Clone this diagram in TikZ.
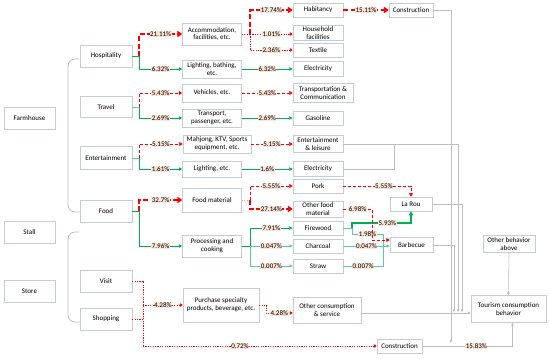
\documentclass[tikz,border=0pt]{standalone}
\usepackage{fontspec}
\setmainfont{Carlito}
\usetikzlibrary{arrows.meta,shadows,calc}
\definecolor{rd}{RGB}{255,0,0}
\definecolor{gn}{RGB}{0,176,80}
\definecolor{lgn}{RGB}{95,205,155}
\definecolor{gl}{RGB}{190,190,190}
\definecolor{peach}{RGB}{252,228,214}
\definecolor{bd}{RGB}{198,204,212}
\definecolor{tanc}{RGB}{205,175,125}
\begin{document}
\begin{tikzpicture}[x=1pt,y=-1pt,
  every node/.style={font=\fontsize{7}{7.8}\selectfont},
  box/.style={draw=bd, fill=white, line width=0.5pt, align=center, inner sep=0pt,
    drop shadow={shadow xshift=0.8pt,shadow yshift=-0.8pt,opacity=0.22}},
  sz/.style 2 args={minimum width=#1pt, minimum height=#2pt},
  lbl/.style={fill=peach, inner sep=0.5pt, text=black},
  rthick/.style={draw=rd, line width=1.8pt, dash pattern=on 5pt off 2.5pt},
  rthickA/.style={rthick, -{Triangle[length=5pt,width=6.5pt]}},
  rmed/.style={draw=rd, line width=0.9pt, dash pattern=on 3pt off 2pt},
  rmedA/.style={rmed, -{Triangle[length=3.5pt,width=4pt]}},
  rdot/.style={draw=rd, line width=0.6pt, dash pattern=on 1.2pt off 1.2pt},
  rdotA/.style={rdot, -{Triangle[length=3pt,width=3.5pt]}},
  gstem/.style={draw=gn, line width=1pt},
  gstemL/.style={draw=lgn, line width=1pt},
  gmain/.style={draw=gn, line width=0.9pt, -{Triangle[length=3.5pt,width=3.5pt]}},
  gthick/.style={draw=gn, line width=1.4pt, -{Triangle[length=4pt,width=4.5pt]}},
  lg/.style={draw=lgn, line width=0.8pt},
  lgA/.style={lg, -{Triangle[length=3.2pt,width=3.2pt]}},
  tandot/.style={draw=tanc, line width=0.6pt, dash pattern=on 1.2pt off 1.2pt},
  gy/.style={draw=gl, line width=0.6pt},
  gyA/.style={gy, -{Triangle[length=2.6pt,width=2.6pt]}},
  brk/.style={draw=gl, line width=0.8pt, rounded corners=7pt}
]
\useasboundingbox[fill=white] (0,0) rectangle (550,359);

% ---------- column 1
\node[box,sz={51}{22}] (farm) at (29.5,118) {Farmhouse};
\node[box,sz={51}{22}] (stall) at (29.5,232) {Stall};
\node[box,sz={51}{22}] (store) at (29.5,291) {Store};

% ---------- column 2
\node[box,sz={52}{22}] (hosp) at (106,56) {Hospitality};
\node[box,sz={52}{21}] (trav) at (106,107) {Travel};
\node[box,sz={52}{23}] (ent) at (106,158) {Entertainment};
\node[box,sz={52}{22}] (food) at (106,211) {Food};
\node[box,sz={52}{22}] (visit) at (106,281) {Visit};
\node[box,sz={52}{22}] (shop) at (106,319) {Shopping};

% ---------- column 3
\node[box,sz={59}{22}] (acc) at (212,34) {Accommodation,\\facilities, etc.};
\node[box,sz={59}{18}] (lbath) at (212,69) {Lighting, bathing,\\etc.};
\node[box,sz={59}{18}] (veh) at (212,93) {Vehicles, etc.};
\node[box,sz={59}{18}] (trans) at (212,118) {Transport,\\passenger, etc.};
\node[box,sz={68}{18}] (mahj) at (217,144) {Mahjong, KTV, Sports\\equipment, etc.};
\node[box,sz={59}{16}] (light) at (212,169) {Lighting, etc.};
\node[box,sz={59}{24}] (fm) at (212,200) {Food material};
\node[box,sz={59}{22}] (proc) at (212,246) {Processing and\\cooking};
\node[box,sz={76}{34}] (pur) at (221,305) {Purchase specialty\\products, beverage, etc.};

% ---------- column 4
\node[box,sz={50}{14}] (hab) at (318,10) {Habitancy};
\node[box,sz={50}{15}] (hh) at (318,33) {Household\\facilities};
\node[box,sz={50}{14}] (tex) at (318,50) {Textile};
\node[box,sz={50}{15}] (el1) at (318,69) {Electricity};
\node[box,sz={60}{19}] (tc) at (323,93) {Transportation \&\\Communication};
\node[box,sz={50}{14}] (gas) at (318,118) {Gasoline};
\node[box,sz={50}{17}] (el) at (318,144) {Entertainment\\\& leisure};
\node[box,sz={50}{15}] (el2) at (318,169) {Electricity};
\node[box,sz={50}{14}] (pork) at (318,186) {Pork};
\node[box,sz={50}{16}] (ofm) at (318,209) {Other food\\material};
\node[box,sz={50}{14}] (fw) at (318,228) {Firewood};
\node[box,sz={50}{14}] (ch) at (318,246) {Charcoal};
\node[box,sz={50}{14}] (st) at (318,266) {Straw};
\node[box,sz={68}{26}] (oc) at (327,310) {Other consumption\\\& service};

% ---------- right part
\node[box,sz={44}{14}] (con1) at (411,10) {Construction};
\node[box,sz={42}{14}] (lr) at (411,204) {La Rou};
\node[box,sz={43}{15}] (bbq) at (411.5,245) {Barbecue};
\node[box,sz={45}{14}] (con2) at (399.5,346) {Construction};
\node[box,sz={52}{17}] (ob) at (509,244) {Other behavior\\above};
\node[box,sz={75}{27}] (tour) at (508.5,309) {Tourism consumption\\behavior};

% ---------- brackets
\draw[brk] (79,59) -- (68,59) -- (68,212) -- (80,212);
\draw[brk] (79,232) -- (68,232) -- (68,322) -- (80,322);

% ---------- hospitality
\coordinate (jh) at (139,56);
\draw[gstem] (hosp.east) -- (jh);
\draw[gmain] (jh) |- node[lbl,pos=0.75]{6.32\%} (lbath.west);
\draw[rthickA] (jh) |- node[lbl,pos=0.75]{21.11\%} (acc.west);
\coordinate (ja) at (250,34);
\draw[rdot] (acc.east) -- (ja);
\draw[rdotA] (ja) -- node[lbl]{1.01\%} (hh.west |- ja);
\draw[rdotA] (ja) |- node[lbl,pos=0.75]{2.36\%} (tex.west);
\draw[rthickA] (ja) |- node[lbl,pos=0.75]{17.74\%} (hab.west);
\draw[rthickA] (hab.east) -- node[lbl]{15.11\%} (con1.west);
\draw[gmain] (lbath.east) -- node[lbl]{6.32\%} (el1.west);

% ---------- travel
\coordinate (jt) at (139,107);
\draw[gstemL] (trav.east) -- (jt);
\draw[gmain] (jt) |- node[lbl,pos=0.75]{2.69\%} (trans.west);
\draw[rmedA] (jt) |- node[lbl,pos=0.75]{5.43\%} (veh.west);
\draw[rmedA] (veh.east) -- node[lbl]{5.43\%} (tc.west);
\draw[gmain] (trans.east) -- node[lbl]{2.69\%} (gas.west);

% ---------- entertainment
\coordinate (je) at (139,158);
\draw[gstemL] (ent.east) -- (je);
\draw[gmain] (je) |- node[lbl,pos=0.75]{1.61\%} (light.west);
\draw[rmedA] (je) |- node[lbl,pos=0.75]{5.15\%} (mahj.west);
\draw[rmedA] (mahj.east) -- node[lbl]{5.15\%} (el.west);
\draw[gmain] (light.east) -- node[lbl]{1.6\%} (el2.west);

% ---------- food
\coordinate (jf) at (139,211);
\draw[gstem] (food.east) -- (jf);
\draw[gmain] (jf) |- node[lbl,pos=0.75]{7.96\%} (proc.west);
\draw[rthickA] (jf) |- node[lbl,pos=0.75]{32.7\%} (fm.west);
\coordinate (jfm) at (250,200);
\draw[tandot] (fm.east) -- (jfm);
\draw[rmedA] (jfm) |- node[lbl,pos=0.75]{5.55\%} (pork.west);
\draw[rthickA] (jfm) |- node[lbl,pos=0.75]{27.14\%} (ofm.west);

\coordinate (jp) at (250,246);
\draw[gstem] (proc.east) -- (jp);
\draw[gmain] (jp) |- node[lbl,pos=0.75]{7.91\%} (fw.west);
\draw[lgA] (jp) -- node[lbl]{0.047\%} (ch.west);
\draw[lgA] (jp) |- node[lbl,pos=0.75]{0.007\%} (st.west);

% ---------- to La Rou / Barbecue
\draw[rmedA] (pork.east) -| node[lbl,pos=0.3]{5.55\%} (lr.north);
\coordinate (jfw) at (352,228);
\coordinate (jbq) at (383,246);
\draw[lg] (fw.east) -- (jfw);
\draw[gthick] (jfw) -- (352,223) -| node[lbl,pos=0.3]{5.93\%} (lr.south);
\draw[lg] (jfw) -- (352,234) -- node[lbl]{1.98\%} (383,234) -- (jbq);
\draw[lg] (st.east) -- node[lbl]{0.007\%} (383,266) -- (jbq);
\draw[lgA] (ch.east) -- node[lbl]{0.047\%} (bbq.west |- ch.east);
\coordinate (jo) at (372,209);
\draw[rmedA] (ofm.east) -- node[lbl]{6.98\%} (jo) |- ($(bbq.west)+(0,-5)$);

% ---------- visit / shopping
\coordinate (jv) at (143,281);
\coordinate (js) at (143,319);
\coordinate (jpu) at (143,305);
\coordinate (jb) at (143,346);
\draw[rdot] (visit.east) -- (jv) -- (jb);
\draw[rdot] (shop.east) -- (js);
\draw[rdotA] (jpu) -- node[lbl]{4.28\%} (pur.west);
\draw[rdotA] (jb) -- node[lbl,pos=0.415]{0.72\%} (con2.west);
\coordinate (oce) at ($(oc.west)+(0,3)$);
\draw[rdotA] (pur.east) -- (266,305) |- node[lbl,pos=0.75]{4.28\%} (oce);

% ---------- gray collectors
\coordinate (oce2) at ($(oc.east)+(0,3)$);
\draw[gyA] (con1.east) -- (451,10) -- (451,343);
\draw[gyA] (el.east) -- (458,144) -- (458,312);
\draw[gy] (el2.east) -- (394,169) -- (394,144);
\draw[gyA] (lr.east) -- (462,204) -- (462,312);
\draw[gyA] (bbq.east) -- (454,245) -- (454,312);
\draw[gyA] (oce2) -- (tour.west |- oce2);
\draw[gyA] (ob.south) -- (tour.north);
\draw[gyA] (con2.east) -| node[lbl,pos=0.3]{15.83\%} ($(tour.south)+(4,0)$);
\end{tikzpicture}
\end{document}
